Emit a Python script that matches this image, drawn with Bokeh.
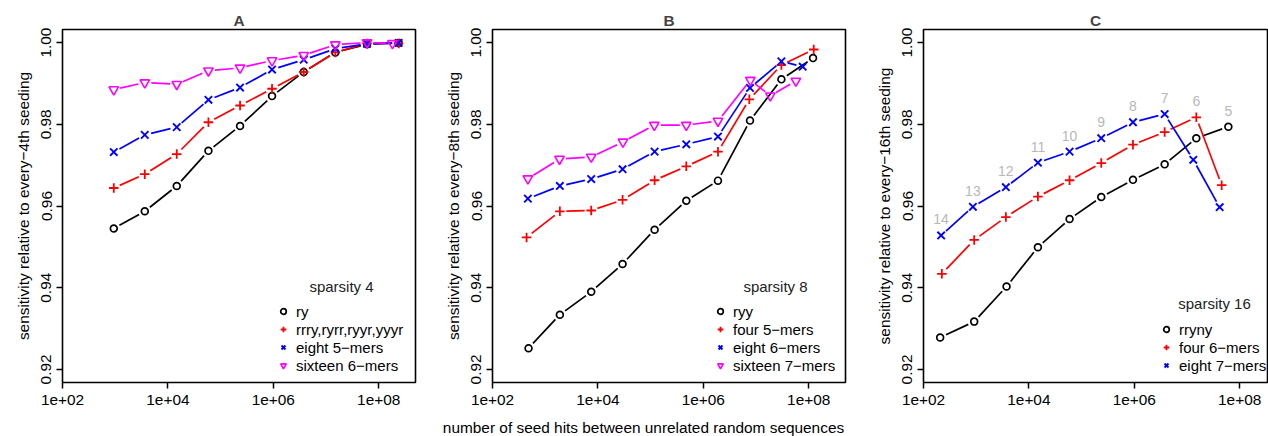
import math
from bokeh.plotting import figure
from bokeh.models import (Range1d, FixedTicker, CustomJSTickFormatter, PrintfTickFormatter,
                          Legend, LegendItem, Label)
from bokeh.layouts import row, column
from bokeh.embed import file_html
from bokeh.resources import INLINE
from bokeh.core.properties import value

FONT = "Liberation Sans"

# ---------------- data ----------------
x_ticks = [1e2, 1e4, 1e6, 1e8]
y_ticks = [0.92, 0.94, 0.96, 0.98, 1.00]

# Panel A (sparsity 4)
a_x = [940, 3640, 14720, 58750, 233900, 946000, 3.776e6, 1.503e7, 6.0e7, 2.388e8]
a_x_6mer = [940, 3640, 14720, 58750, 233900, 946000, 3.776e6, 1.503e7, 6.0e7, 1.82e8]
a_ry = [0.9545, 0.9587, 0.9649, 0.9735, 0.9796, 0.9869, 0.9928, 0.9976, 0.9996, 0.9999]
a_4mer = [0.9644, 0.9678, 0.9727, 0.9805, 0.9846, 0.9887, 0.9928, 0.9976, 0.9998, 0.9998]
a_5mer = [0.9732, 0.9774, 0.9793, 0.9860, 0.9890, 0.9934, 0.9958, 0.9985, 0.9997, 0.9999]
a_6mer = [0.9885, 0.9902, 0.9898, 0.9931, 0.9938, 0.9956, 0.9969, 0.9995, 1.0000, 0.9998]

# Panel B (sparsity 8)
b_x_ryy = [483, 1897, 7464, 29380, 119100, 475300, 1.897e6, 7.69e6, 3.03e7, 1.208e8]
b_x_5mer = [443, 1897, 7464, 29380, 119100, 475300, 1.897e6, 7.46e6, 3.03e7, 1.245e8]
b_x_6mer = [469, 1897, 7464, 29380, 119100, 475300, 1.897e6, 7.69e6, 3.03e7, 7.69e7]
b_x_7mer = [469, 1871, 7464, 29850, 117500, 475300, 1.897e6, 7.8e6, 1.87e7, 5.7e7]
b_ryy = [0.9252, 0.9334, 0.9390, 0.9458, 0.9542, 0.9613, 0.9662, 0.9809, 0.9910, 0.9962]
b_5mer = [0.9523, 0.9587, 0.9589, 0.9615, 0.9663, 0.9697, 0.9733, 0.9861, 0.9945, 0.9983]
b_6mer = [0.9618, 0.9649, 0.9666, 0.9690, 0.9733, 0.9751, 0.9770, 0.9889, 0.9954, 0.9941]
b_7mer = [0.9667, 0.9715, 0.9720, 0.9757, 0.9798, 0.9798, 0.9808, 0.9908, 0.9870, 0.9906]

# Panel C (sparsity 16)
c_x_rryny = [207, 916, 3767, 14830, 59160, 236000, 944000, 3.77e6, 1.503e7, 6.1e7]
c_x_6mer = [223, 916, 3656, 14830, 59160, 236000, 944000, 3.77e6, 1.503e7, 4.55e7]
c_x_7mer = [216, 865, 3656, 14830, 59160, 236000, 944000, 3.77e6, 1.318e7, 4.17e7]
c_rryny = [0.9278, 0.9317, 0.9403, 0.9499, 0.9568, 0.9622, 0.9664, 0.9702, 0.9766, 0.9794]
c_6mer = [0.9434, 0.9517, 0.9573, 0.9623, 0.9663, 0.9705, 0.9750, 0.9781, 0.9817, 0.9651]
c_7mer = [0.9528, 0.9598, 0.9646, 0.9706, 0.9733, 0.9766, 0.9805, 0.9825, 0.9713, 0.9597]
c_point_labels = ["14", "13", "12", "11", "10", "9", "8", "7", "6", "5"]

x_title = "number of seed hits between unrelated random sequences"

# ---------------- layout constants ----------------
X_LO = 2.0
Y_LO, Y_HI = 0.9168, 1.0032
FRAME_H = 353
BORDER_TOP = 29
BORDER_BOTTOM = 34
XLAB_H = 20
AX_FS = "15.4px"
GAP = 6.5


def gapped_segments(xs, ys, ppd, ppu):
    x0, y0, x1, y1 = [], [], [], []
    for i in range(len(xs) - 1):
        ax, ay = math.log10(xs[i]) * ppd, ys[i] * ppu
        bx, by = math.log10(xs[i + 1]) * ppd, ys[i + 1] * ppu
        d = math.hypot(bx - ax, by - ay)
        if d <= 2 * GAP:
            continue
        ux, uy = (bx - ax) / d, (by - ay) / d
        sx, sy = ax + ux * GAP, ay + uy * GAP
        ex, ey = bx - ux * GAP, by - uy * GAP
        x0.append(10 ** (sx / ppd)); y0.append(sy / ppu)
        x1.append(10 ** (ex / ppd)); y1.append(ey / ppu)
    return x0, y0, x1, y1


MARKERS = {
    "circle": dict(marker="circle", size=6.8, line_width=1.7),
    "cross": dict(marker="cross", size=9.5, line_width=1.8),
    "x": dict(marker="x", size=10.5, line_width=1.9),
    "tri": dict(marker="inverted_triangle", size=9.5, line_width=1.6),
}


def make_panel(title, ylabel, series, frame_w, border_left, border_right, x_hi,
               leg_title, leg_title_xy, leg_loc, point_labels=None):
    p = figure(frame_width=frame_w, frame_height=FRAME_H, x_axis_type="log",
               x_range=Range1d(10 ** X_LO, 10 ** x_hi),
               y_range=Range1d(Y_LO, Y_HI),
               output_backend="svg", toolbar_location=None,
               min_border_left=border_left, min_border_right=border_right,
               min_border_top=BORDER_TOP, min_border_bottom=BORDER_BOTTOM)
    p.grid.visible = False
    p.outline_line_color = "black"
    p.outline_line_width = 1.6
    p.outline_line_alpha = 1.0

    p.title.text = title
    p.title.align = "center"
    p.title.text_font = FONT
    p.title.text_font_size = "15.4px"
    p.title.text_font_style = "bold"
    p.title.standoff = 2

    for ax in (p.xaxis[0], p.yaxis[0]):
        ax.axis_line_color = None
        ax.major_tick_out = 6
        ax.major_tick_in = 0
        ax.minor_tick_out = 0
        ax.minor_tick_in = 0
        ax.major_tick_line_width = 1.5
        ax.major_tick_line_color = "black"
        ax.major_label_text_font = FONT
        ax.major_label_text_font_size = AX_FS
        ax.major_label_text_color = "black"
        ax.axis_label_text_font = FONT
        ax.axis_label_text_font_size = AX_FS
        ax.axis_label_text_font_style = "normal"
        ax.axis_label_text_color = "black"

    p.xaxis.ticker = FixedTicker(ticks=x_ticks)
    p.xaxis.formatter = CustomJSTickFormatter(code="""
        const e = Math.round(Math.log10(tick));
        return "1e+" + (e < 10 ? "0" : "") + e;
    """)
    p.xaxis.major_label_standoff = 6
    p.yaxis.ticker = FixedTicker(ticks=y_ticks)
    p.yaxis.formatter = PrintfTickFormatter(format="%.2f")
    p.yaxis.major_label_orientation = "vertical"
    p.yaxis.major_label_standoff = 5
    p.yaxis.axis_label = ylabel
    p.yaxis.axis_label_standoff = 7

    ppd = frame_w / (x_hi - X_LO)
    ppu = FRAME_H / (Y_HI - Y_LO)

    items = []
    for (lab, xs, ys, color, mk) in series:
        x0, y0, x1, y1 = gapped_segments(xs, ys, ppd, ppu)
        p.segment(x0=x0, y0=y0, x1=x1, y1=y1, line_color=color, line_width=1.7)
        m = MARKERS[mk]
        r = p.scatter(x=xs, y=ys, marker=m["marker"], size=m["size"],
                      line_color=color, line_width=m["line_width"], fill_color=None)
        items.append(LegendItem(label=lab, renderers=[r]))

    if point_labels is not None:
        lx, ly = [], []
        for i in range(len(point_labels)):
            best = max(series, key=lambda s: s[2][i])
            lx.append(best[1][i]); ly.append(best[2][i])
        p.text(x=lx, y=ly, text=point_labels, text_align="center",
               text_baseline="middle", y_offset=-16, text_color="#b8b8b8",
               text_font_size="14px", text_font=value(FONT))

    leg = Legend(items=items, location=leg_loc, border_line_color=None,
                 background_fill_alpha=0, padding=0, margin=0, spacing=0,
                 glyph_width=14, glyph_height=18, label_height=18,
                 label_standoff=6, label_text_font=FONT,
                 label_text_font_size="15px", label_text_color="black")
    p.add_layout(leg)

    p.add_layout(Label(x=leg_title_xy[0], y=leg_title_xy[1], x_units="screen",
                       y_units="screen", text=leg_title, text_align="center",
                       text_baseline="middle", text_font=FONT,
                       text_font_size="15px", text_color="#222222"))
    return p


pA = make_panel("A", "sensitivity relative to every\u22124th seeding",
                [("ry", a_x, a_ry, "black", "circle"),
                 ("rrry,ryrr,ryyr,yyyr", a_x, a_4mer, "red", "cross"),
                 ("eight 5\u2212mers", a_x, a_5mer, "blue", "x"),
                 ("sixteen 6\u2212mers", a_x_6mer, a_6mer, "magenta", "tri")],
                frame_w=353, border_left=62, border_right=23, x_hi=8.698,
                leg_title="sparsity 4", leg_title_xy=(279, 96), leg_loc=(214, 8))

pB = make_panel("B", "sensitivity relative to every\u22128th seeding",
                [("ryy", b_x_ryy, b_ryy, "black", "circle"),
                 ("four 5\u2212mers", b_x_5mer, b_5mer, "red", "cross"),
                 ("eight 6\u2212mers", b_x_6mer, b_6mer, "blue", "x"),
                 ("sixteen 7\u2212mers", b_x_7mer, b_7mer, "magenta", "tri")],
                frame_w=353, border_left=54, border_right=24, x_hi=8.698,
                leg_title="sparsity 8", leg_title_xy=(283, 96), leg_loc=(221, 8))

pC = make_panel("C", "sensitivity relative to every\u221216th seeding",
                [("rryny", c_x_rryny, c_rryny, "black", "circle"),
                 ("four 6\u2212mers", c_x_6mer, c_6mer, "red", "cross"),
                 ("eight 7\u2212mers", c_x_7mer, c_7mer, "blue", "x")],
                frame_w=344, border_left=54, border_right=1, x_hi=8.528,
                leg_title="sparsity 16", leg_title_xy=(291, 79), leg_loc=(236, 8),
                point_labels=c_point_labels)

# strip holding the shared x-axis title, centred under the middle of the figure
px = figure(width=1268, height=XLAB_H, x_range=Range1d(0, 1), y_range=Range1d(0, 1),
            output_backend="svg", toolbar_location=None,
            min_border_left=0, min_border_right=0, min_border_top=0, min_border_bottom=0)
px.axis.visible = False
px.grid.visible = False
px.outline_line_color = None
px.add_layout(Label(x=643, y=XLAB_H / 2 - 1, x_units="screen", y_units="screen",
                    text=x_title, text_align="center", text_baseline="middle",
                    text_font=FONT, text_font_size=AX_FS, text_color="black"))

layout = column(row(pA, pB, pC), px)
open("out.html", "w").write(file_html(layout, INLINE))
